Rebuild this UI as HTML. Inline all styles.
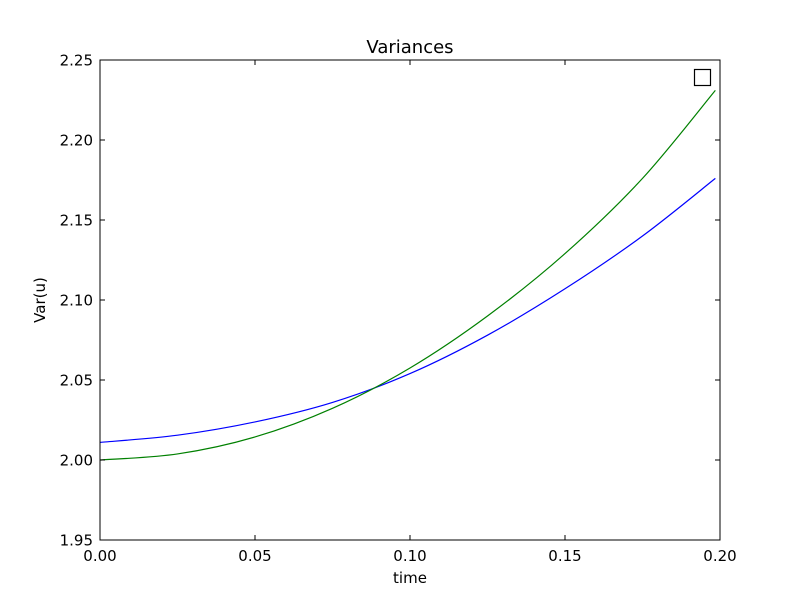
<!DOCTYPE html>
<html><head><meta charset="utf-8"><style>
body{margin:0;background:#fff;}
text{font-family:"DejaVu Sans","Liberation Sans",sans-serif;}
</style></head><body>
<svg id="chart" width="800" height="600" xmlns="http://www.w3.org/2000/svg">
<rect width="800" height="600" fill="#fff"/>
<g id="plot"></g>
</svg>
<script>
const times=[0,0.025,0.05,0.075,0.1,0.125,0.15,0.175,0.1985];
const blueVar=[2.011,2.0155,2.0238,2.036,2.054,2.078,2.107,2.140,2.176];
const greenVar=[2.000,2.0038,2.0144,2.0323,2.0575,2.090,2.129,2.176,2.231];
const xTicks=["0.00","0.05","0.10","0.15","0.20"];
const yTicks=["1.95","2.00","2.05","2.10","2.15","2.20","2.25"];
const L=100,R=720,T=60,B=540,x0=0,x1=0.2,y0=1.95,y1=2.25;
const sx=v=>L+(v-x0)/(x1-x0)*(R-L);
const sy=v=>B-(v-y0)/(y1-y0)*(B-T);
const NS="http://www.w3.org/2000/svg";
const g=document.getElementById('plot');
function mk(tag,attrs,txt){const e=document.createElementNS(NS,tag);for(const k in attrs)e.setAttribute(k,attrs[k]);if(txt!==undefined)e.textContent=txt;g.appendChild(e);return e;}
function pathFor(ys){
  const p=times.map((t,i)=>[sx(t),sy(ys[i])]);
  let d=`M${p[0][0]},${p[0][1]}`;
  for(let i=0;i<p.length-1;i++){
    const a=p[Math.max(i-1,0)],b=p[i],c=p[i+1],e=p[Math.min(i+2,p.length-1)];
    const c1=[b[0]+(c[0]-a[0])/6,b[1]+(c[1]-a[1])/6],c2=[c[0]-(e[0]-b[0])/6,c[1]-(e[1]-b[1])/6];
    d+=` C${c1[0]},${c1[1]} ${c2[0]},${c2[1]} ${c[0]},${c[1]}`;
  }
  return d;
}
let el=mk('path',{d:pathFor(blueVar),fill:'none',stroke:'#0000ff','stroke-width':1.2});


el=mk('path',{d:pathFor(greenVar),fill:'none',stroke:'#008000','stroke-width':1.2});


xTicks.forEach(t=>{const x=sx(+t);
  mk('line',{x1:x,x2:x,y1:B,y2:B-5,stroke:'#000'});mk('line',{x1:x,x2:x,y1:T,y2:T+5,stroke:'#000'});
  el=mk('text',{x:x,y:B+21,'text-anchor':'middle','font-size':15},t);
  
  });
yTicks.forEach(t=>{const y=sy(+t);
  mk('line',{x1:L,x2:L+5,y1:y,y2:y,stroke:'#000'});mk('line',{x1:R,x2:R-5,y1:y,y2:y,stroke:'#000'});
  el=mk('text',{x:L-7,y:y+5.5,'text-anchor':'end','font-size':15},t);
  
  });
el=mk('rect',{x:L,y:T,width:R-L,height:B-T,fill:'none',stroke:'#000','stroke-width':1});


el=mk('rect',{x:694.5,y:69.5,width:16,height:16,fill:'#fff',stroke:'#000','stroke-width':1.2});


el=mk('text',{x:410,y:53,'text-anchor':'middle','font-size':18},'Variances');


el=mk('text',{x:410,y:583,'text-anchor':'middle','font-size':15},'time');


el=mk('text',{x:45,y:300,'text-anchor':'middle','font-size':15,transform:'rotate(-90 45 300)'},'Var(u)');


</script>
</body></html>
